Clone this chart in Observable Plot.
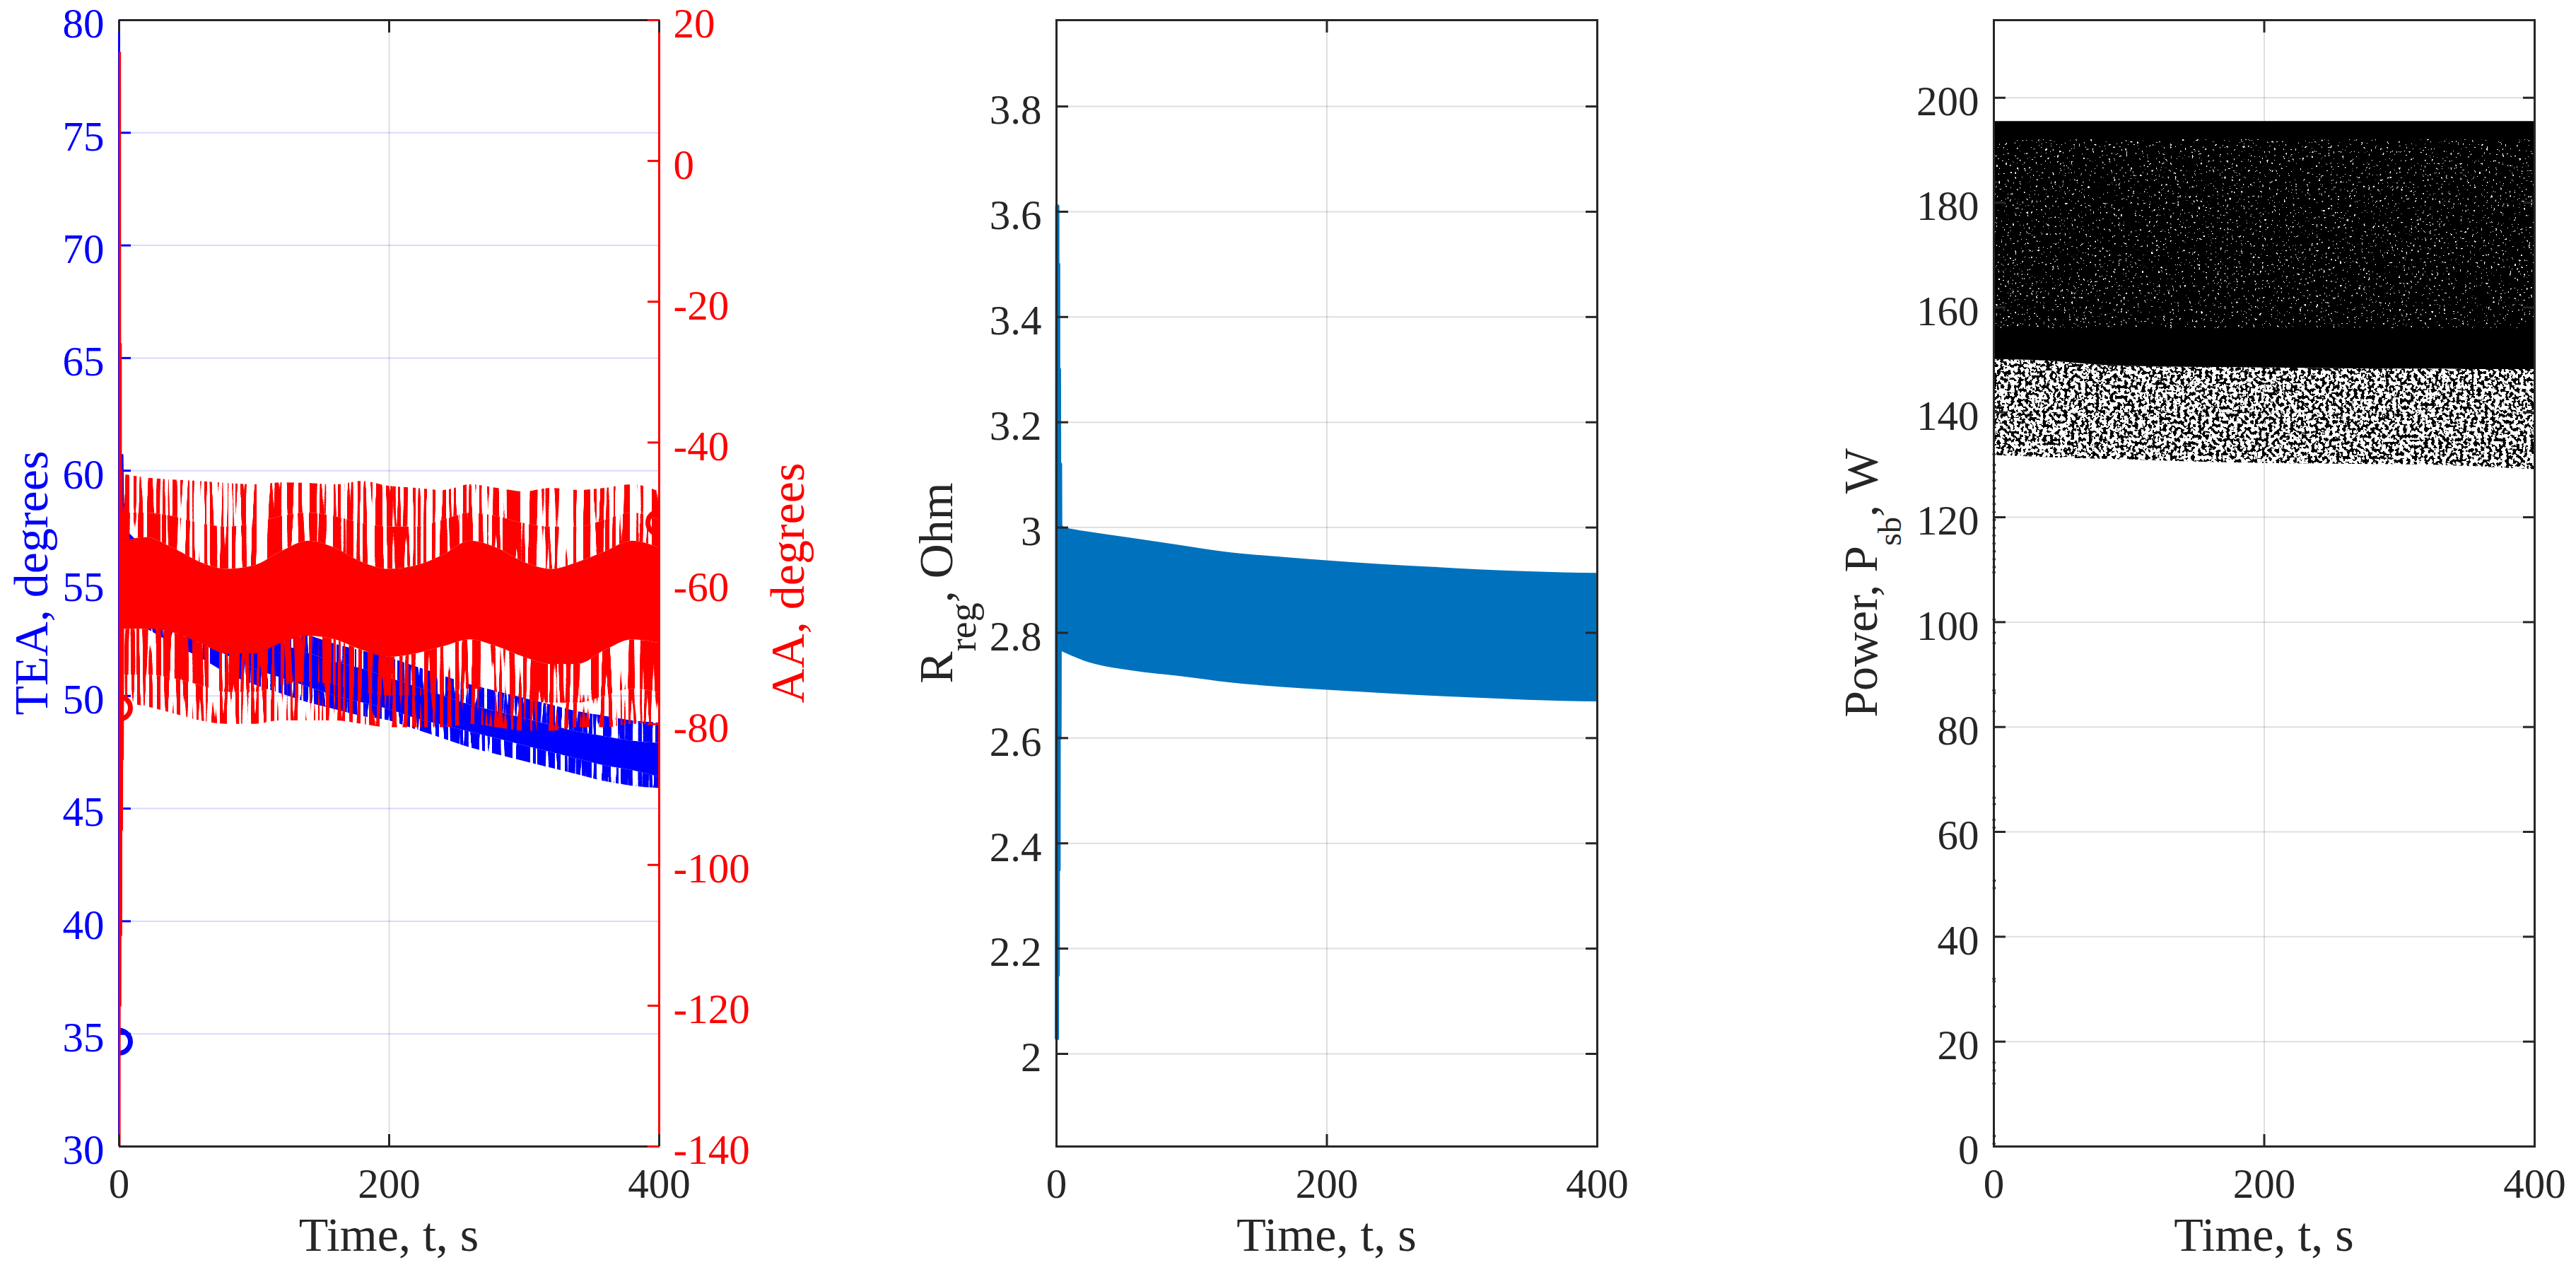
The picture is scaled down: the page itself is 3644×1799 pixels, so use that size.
<!DOCTYPE html>
<html><head><meta charset="utf-8">
<script src="https://cdn.jsdelivr.net/npm/d3@7"></script>
<script src="https://cdn.jsdelivr.net/npm/@observablehq/plot@0.6"></script>
<style>
html,body{margin:0;padding:0;background:#fff;}
#page{position:relative;width:3644px;height:1799px;overflow:hidden;background:#fff;}
#page svg{position:absolute;left:0;top:0;}
</style></head><body><div id="page"></div>
<script>
// ---------------- data ----------------
const timeDomain = [0, 400];
const timeTicks = [0, 200, 400];

// Panel 1: TEA (left axis) and AA (right axis)
const teaDomain = [30, 80];
const teaTicks = [30, 35, 40, 45, 50, 55, 60, 65, 70, 75, 80];
const aaDomain = [-140, 20];
const aaTicks = [-140, -120, -100, -80, -60, -40, -20, 0, 20];

const envTime     = [3, 20, 40, 60, 80, 100, 120, 140, 160, 180, 200, 220, 240, 260, 280, 300, 320, 340, 360, 380, 400];
const aaOuterTop  = [-44.5, -45.0, -45.3, -45.5, -45.8, -46.0, -45.7, -45.8, -46.0, -45.5, -46.2, -46.5, -46.8, -46.0, -46.5, -47.0, -46.5, -46.8, -46.5, -46.0, -47.0];
const aaMidTop    = [-50.0, -50.0, -50.5, -51.5, -52.0, -51.5, -50.5, -50.0, -50.5, -51.5, -52.0, -52.0, -51.0, -50.0, -50.5, -51.5, -52.0, -52.0, -51.0, -50.0, -51.0];
const aaCoreTop   = [-54.0, -53.5, -55.0, -57.0, -58.0, -57.5, -55.5, -54.0, -55.0, -57.0, -58.0, -57.5, -56.0, -54.0, -55.0, -57.0, -58.0, -57.0, -55.5, -54.0, -55.0];
const aaCoreBot   = [-66.5, -66.5, -67.0, -68.5, -70.0, -70.0, -68.5, -67.5, -68.0, -69.5, -70.5, -70.0, -69.0, -68.0, -69.0, -70.5, -71.5, -71.5, -69.5, -68.0, -68.5];
const aaMidBot    = [-73.0, -73.0, -73.5, -74.5, -75.5, -75.5, -74.5, -74.0, -74.5, -75.5, -76.0, -76.0, -75.5, -75.0, -75.5, -76.5, -77.0, -77.0, -76.0, -75.0, -75.5];
const aaOuterBot  = [-77.0, -77.5, -78.5, -79.5, -80.0, -80.0, -79.5, -79.5, -79.5, -80.0, -80.5, -80.5, -80.5, -80.0, -80.5, -81.0, -81.0, -80.5, -80.5, -80.0, -80.0];

const teaOuterTop = [57.5, 56.5, 55.5, 54.8, 54.2, 53.6, 53.1, 52.7, 52.3, 52.0, 51.7, 51.3, 50.9, 50.5, 50.2, 49.9, 49.6, 49.3, 49.1, 48.9, 48.8];
const teaCoreTop  = [56.5, 55.5, 54.6, 54.0, 53.3, 52.8, 52.3, 51.9, 51.5, 51.2, 50.8, 50.4, 50.0, 49.6, 49.3, 49.0, 48.7, 48.4, 48.2, 48.0, 47.9];
const teaCoreBot  = [54.5, 53.8, 53.0, 52.4, 51.8, 51.2, 50.8, 50.4, 50.0, 49.7, 49.4, 49.0, 48.7, 48.4, 48.1, 47.8, 47.5, 47.2, 46.9, 46.7, 46.4];
const teaOuterBot = [53.5, 53.0, 52.3, 51.7, 51.0, 50.5, 50.1, 49.7, 49.4, 49.1, 48.9, 48.5, 48.1, 47.7, 47.4, 47.1, 46.8, 46.5, 46.2, 46.0, 45.9];

const aaStartTime  = [0, 0.3, 0.6, 0.9, 1.2, 1.5, 1.8, 2.1, 2.4, 2.7, 3.0];
const aaStartValue = [-77.7, -145, 15.4, -120, -26, -110, -44, -95, -50, -85, -56];
const teaStartTime  = [0, 0.8, 1.6, 2.4, 3.2, 4.0, 5.0, 6.5];
const teaStartValue = [34.65, 52, 58, 60.7, 57, 58.5, 56.5, 55.8];
const markerTime = [0, 400];
const teaMarker = [34.65, 47.3];
const aaMarker = [-77.7, -51.4];

// Panel 2: R_reg
const rDomain = [1.824, 3.964];
const rTicks = [2, 2.2, 2.4, 2.6, 2.8, 3, 3.2, 3.4, 3.6, 3.8];
const rTime  = [3.5, 20, 55, 92, 129, 165, 200, 240, 276, 312, 349, 375, 400];
const rUpper = [3.0, 2.993, 2.98, 2.966, 2.952, 2.944, 2.937, 2.93, 2.925, 2.92, 2.916, 2.914, 2.913];
const rLower = [2.765, 2.747, 2.728, 2.717, 2.705, 2.697, 2.691, 2.685, 2.68, 2.676, 2.672, 2.67, 2.669];
const rStartTime  = [0.3, 0.6, 0.9, 1.2, 1.5, 1.8, 2.2, 2.6, 3.0, 3.5];
const rStartValue = [2.03, 3.61, 2.15, 3.5, 2.35, 3.3, 2.6, 3.12, 2.79, 3.0];

// Panel 3: Power P_sb
const pDomain = [0, 214.8];
const pTicks = [0, 20, 40, 60, 80, 100, 120, 140, 160, 180, 200];
const pTime       = [0.5, 40, 80, 120, 160, 200, 240, 280, 320, 360, 400];
const pUpper      = [195.5, 195.5, 195.5, 195.5, 195.5, 195.5, 195.5, 195.5, 195.5, 195.5, 195.5];
const pDenseLower = [150.1, 149.8, 149.0, 148.7, 148.6, 148.5, 148.4, 148.3, 148.3, 148.2, 148.2];
const pLower      = [131.8, 131.4, 131.1, 130.8, 130.5, 130.3, 130.2, 130.1, 130.0, 129.6, 129.1];
const pSpeckTop   = [192, 192, 192, 192, 192, 192, 192, 192, 192, 192, 192];
const pSpeckBot   = [156, 156, 156, 156, 156, 156, 156, 156, 156, 156, 156];
const pStartTime  = [0.1, 0.2, 0.05, 0.15, 0.1, 0.2, 0.1, 0.05, 0.15, 0.2, 0.1, 0.05, 0.2, 0.1, 0.15, 0.1, 0.2, 0.05, 0.1, 0.15, 0.2, 0.1, 0.05, 0.15, 0.1, 0.2, 0.1, 0.05, 0.15, 0.2, 0.1, 0.15, 0.05, 0.2, 0.1, 0.15, 0.2, 0.1];
const pStartValue = [0.5, 2, 12, 14.5, 16, 26.7, 31.5, 32, 49.3, 50.7, 60.8, 62.3, 65.3, 66.5, 72.5, 83, 86.5, 87, 90, 96, 98, 100.5, 109.5, 110.5, 112, 113.5, 115, 116.5, 118, 119.5, 121, 122.5, 124, 125.5, 127, 128.6, 130, 132];

// ---------------- layout / style ----------------
const W = 3644, H = 1799, FT = 28, FB = 1621;
const FONT = "'Liberation Serif', 'Times New Roman', serif";
const INK = "#262626", BLUE = "#0000ff", RED = "#ff0000", MBLUE = "#0072bd";
const TICK_FS = 59, LABEL_FS = 68;
const fmt = d => String(d);
const page = document.getElementById("page");

function base(left, right) {
  return {
    width: W, height: H,
    marginLeft: left, marginRight: W - right, marginTop: FT, marginBottom: H - FB,
    style: {background: "transparent", fontFamily: FONT, fontSize: TICK_FS + "px", color: INK, overflow: "visible"}
  };
}
const table = (t, cols) => t.map((v, i) => { const o = {t: v}; for (const k in cols) o[k] = cols[k][i]; return o; });

function yTickMarks(ticks, anchor, color) {
  return Plot.axisY(ticks, {anchor, tickSize: 17, dx: anchor === "left" ? 17 : -17, fill: "none", stroke: color, strokeWidth: 3});
}
function yTickLabels(ticks, anchor, color, pad) {
  return Plot.axisY(ticks, {anchor, tickSize: 0, tickPadding: pad, dy: 6, stroke: "none", fill: color, label: null, tickFormat: fmt, fontSize: TICK_FS});
}
function xTickMarks(ticks) {
  return [
    Plot.axisX(ticks, {anchor: "bottom", tickSize: 17, dy: -17, fill: "none", stroke: INK, strokeWidth: 3}),
    Plot.axisX(ticks, {anchor: "top", tickSize: 17, dy: 17, fill: "none", stroke: INK, strokeWidth: 3})
  ];
}
function xTickLabels(ticks) {
  return Plot.axisX(ticks, {anchor: "bottom", tickSize: 0, tickPadding: 31, stroke: "none", fill: INK, label: null, tickFormat: fmt, fontSize: TICK_FS});
}

function addFilter(svg, id, freq, seed, k, thr, octaves) {
  let defs = d3.select(svg).select("defs.tex");
  if (defs.empty()) defs = d3.select(svg).append("defs").attr("class", "tex");
  const f = defs.append("filter").attr("id", id).attr("filterUnits", "userSpaceOnUse")
    .attr("x", 0).attr("y", 0).attr("width", W).attr("height", H)
    .attr("color-interpolation-filters", "sRGB");
  f.append("feTurbulence").attr("type", "fractalNoise").attr("baseFrequency", freq)
    .attr("numOctaves", octaves).attr("seed", seed).attr("result", "n");
  f.append("feColorMatrix").attr("in", "n").attr("type", "matrix")
    .attr("values", `0 0 0 0 0  0 0 0 0 0  0 0 0 0 0  ${k} 0 0 0 ${-k * thr}`).attr("result", "m");
  f.append("feComposite").attr("in", "SourceGraphic").attr("in2", "m").attr("operator", "in");
}
function applyFilter(svg, key, id) {
  d3.select(svg).selectAll(`g[aria-description="${key}"]`).attr("filter", `url(#${id})`);
}
function addXLabel(svg, cx, text) {
  d3.select(svg).append("text").attr("x", cx).attr("y", 1769).attr("text-anchor", "middle")
    .attr("fill", INK).style("font-family", FONT).style("font-size", LABEL_FS + "px").text(text);
}
function addYLabel(svg, x, parts, color) {
  const t = d3.select(svg).append("text")
    .attr("transform", `translate(${x},${(FT + FB) / 2}) rotate(-90)`)
    .attr("text-anchor", "middle").attr("fill", color)
    .style("font-family", FONT).style("font-size", LABEL_FS + "px");
  for (const p of parts) {
    const s = t.append("tspan").text(p.text);
    if (p.size) s.style("font-size", p.size + "px");
    if (p.dy) s.attr("dy", p.dy);
  }
}

// ---------------- Panel 1 (two stacked layers: TEA below, AA above) ----------------
const teaTable = table(envTime, {ot: teaOuterTop, ct: teaCoreTop, cb: teaCoreBot, ob: teaOuterBot});
const aaTable = table(envTime, {ot: aaOuterTop, mt: aaMidTop, ct: aaCoreTop, cb: aaCoreBot, mb: aaMidBot, ob: aaOuterBot});
const teaStart = table(teaStartTime, {v: teaStartValue});
const aaStart = table(aaStartTime, {v: aaStartValue});
const teaMarks = table(markerTime, {v: teaMarker});
const aaMarks = table(markerTime, {v: aaMarker});
const curve = "monotone-x";

const p1a = Plot.plot({
  ...base(168, 932),
  x: {domain: timeDomain, axis: null},
  y: {domain: teaDomain, axis: null},
  marks: [
    Plot.gridY(teaTicks, {stroke: BLUE, strokeOpacity: 0.15, strokeWidth: 2}),
    Plot.gridX(timeTicks, {stroke: INK, strokeOpacity: 0.15, strokeWidth: 2}),
    Plot.areaY(teaTable, {x: "t", y1: "ob", y2: "cb", fill: BLUE, curve, clip: true, ariaDescription: "tea-fringe"}),
    Plot.areaY(teaTable, {x: "t", y1: "ct", y2: "ot", fill: BLUE, curve, clip: true, ariaDescription: "tea-fringe"}),
    Plot.areaY(teaTable, {x: "t", y1: "cb", y2: "ct", fill: BLUE, curve, clip: true}),
    Plot.line(teaStart, {x: "t", y: "v", stroke: BLUE, strokeWidth: 3, clip: true}),
    Plot.dot(teaMarks, {x: "t", y: "v", r: 16, stroke: BLUE, strokeWidth: 7, fill: "none", clip: true}),
    Plot.ruleX([timeDomain[0]], {stroke: BLUE, strokeWidth: 3}),
    yTickMarks(teaTicks, "left", BLUE),
    yTickLabels(teaTicks, "left", BLUE, 21)
  ]
});
page.appendChild(p1a);
addFilter(p1a, "fTea", "0.2 0.008", 11, 40, 0.43, 1);
applyFilter(p1a, "tea-fringe", "fTea");
addYLabel(p1a, 67, [{text: "TEA, degrees"}], BLUE);

const p1b = Plot.plot({
  ...base(168, 932),
  x: {domain: timeDomain, axis: null},
  y: {domain: aaDomain, axis: null},
  marks: [
    Plot.areaY(aaTable, {x: "t", y1: "ob", y2: "mb", fill: RED, curve, clip: true, ariaDescription: "aa-far"}),
    Plot.areaY(aaTable, {x: "t", y1: "mb", y2: "cb", fill: RED, curve, clip: true, ariaDescription: "aa-near"}),
    Plot.areaY(aaTable, {x: "t", y1: "cb", y2: "ct", fill: RED, curve, clip: true}),
    Plot.areaY(aaTable, {x: "t", y1: "ct", y2: "mt", fill: RED, curve, clip: true, ariaDescription: "aa-near"}),
    Plot.areaY(aaTable, {x: "t", y1: "mt", y2: "ot", fill: RED, curve, clip: true, ariaDescription: "aa-far"}),
    Plot.line(aaStart, {x: "t", y: "v", stroke: RED, strokeWidth: 3, clip: true}),
    Plot.dot(aaMarks, {x: "t", y: "v", r: 16, stroke: RED, strokeWidth: 7, fill: "none", clip: true}),
    Plot.ruleY(aaDomain, {stroke: INK, strokeWidth: 3}),
    Plot.ruleX([timeDomain[1]], {stroke: RED, strokeWidth: 3}),
    yTickMarks(aaTicks, "right", RED),
    yTickLabels(aaTicks, "right", RED, 20),
    xTickMarks(timeTicks),
    xTickLabels(timeTicks)
  ]
});
page.appendChild(p1b);
addFilter(p1b, "fAaNear", "0.18 0.006", 5, 40, 0.46, 1);
addFilter(p1b, "fAaFar", "0.18 0.006", 5, 40, 0.515, 1);
applyFilter(p1b, "aa-near", "fAaNear");
applyFilter(p1b, "aa-far", "fAaFar");
addYLabel(p1b, 1137, [{text: "AA, degrees"}], RED);
addXLabel(p1b, (168 + 932) / 2, "Time, t, s");

// ---------------- Panel 2 ----------------
const rTable = table(rTime, {lo: rLower, hi: rUpper});
const rStart = table(rStartTime, {v: rStartValue});
const p2 = Plot.plot({
  ...base(1494, 2259),
  x: {domain: timeDomain, axis: null},
  y: {domain: rDomain, axis: null},
  marks: [
    Plot.gridY(rTicks, {stroke: INK, strokeOpacity: 0.15, strokeWidth: 2}),
    Plot.gridX(timeTicks, {stroke: INK, strokeOpacity: 0.15, strokeWidth: 2}),
    Plot.areaY(rTable, {x: "t", y1: "lo", y2: "hi", fill: MBLUE, curve, clip: true}),
    Plot.line(rStart, {x: "t", y: "v", stroke: MBLUE, strokeWidth: 6}),
    Plot.frame({stroke: INK, strokeWidth: 3}),
    yTickMarks(rTicks, "left", INK),
    yTickMarks(rTicks, "right", INK),
    yTickLabels(rTicks, "left", INK, 21),
    xTickMarks(timeTicks),
    xTickLabels(timeTicks)
  ]
});
page.appendChild(p2);
addYLabel(p2, 1347, [{text: "R"}, {text: "reg", size: 54, dy: 33}, {text: ", Ohm", dy: -33}], INK);
addXLabel(p2, (1494 + 2259) / 2, "Time, t, s");

// ---------------- Panel 3 ----------------
const pTable = table(pTime, {up: pUpper, dl: pDenseLower, lo: pLower, st: pSpeckTop, sb: pSpeckBot});
const pStart = table(pStartTime, {v: pStartValue});
const p3 = Plot.plot({
  ...base(2820, 3585),
  x: {domain: timeDomain, axis: null},
  y: {domain: pDomain, axis: null},
  marks: [
    Plot.gridY(pTicks, {stroke: INK, strokeOpacity: 0.15, strokeWidth: 2}),
    Plot.gridX(timeTicks, {stroke: INK, strokeOpacity: 0.15, strokeWidth: 2}),
    Plot.areaY(pTable, {x: "t", y1: "lo", y2: "dl", fill: "#000", curve, clip: true, ariaDescription: "p-scatter"}),
    Plot.areaY(pTable, {x: "t", y1: "dl", y2: "up", fill: "#000", curve, clip: true}),
    Plot.areaY(pTable, {x: "t", y1: "sb", y2: "st", fill: "#fff", curve, clip: true, ariaDescription: "p-speck"}),
    Plot.dot(pStart, {x: "t", y: "v", r: 2.2, fill: "#000"}),
    Plot.frame({stroke: INK, strokeWidth: 3}),
    yTickMarks(pTicks, "left", INK),
    yTickMarks(pTicks, "right", INK),
    yTickLabels(pTicks, "left", INK, 21),
    xTickMarks(timeTicks),
    xTickLabels(timeTicks)
  ]
});
page.appendChild(p3);
addFilter(p3, "fPScatter", "0.2", 3, 30, 0.5, 2);
addFilter(p3, "fPSpeck", "0.3", 9, 30, 0.7, 2);
applyFilter(p3, "p-scatter", "fPScatter");
applyFilter(p3, "p-speck", "fPSpeck");
addYLabel(p3, 2655, [{text: "Power, P"}, {text: "sb", size: 46, dy: 34}, {text: ", W", dy: -34}], INK);
addXLabel(p3, (2820 + 3585) / 2, "Time, t, s");
</script>
</body></html>
